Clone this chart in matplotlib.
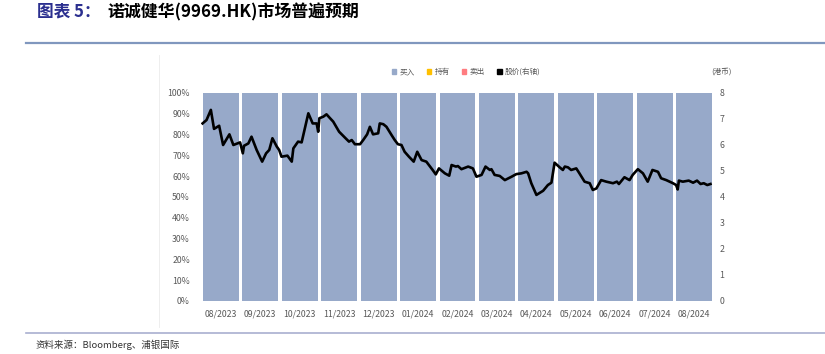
import matplotlib
matplotlib.use("Agg")
import matplotlib.pyplot as plt
import matplotlib.patches as mpatches
from matplotlib.lines import Line2D
import numpy as np

plt.rcParams["font.family"] = ["Noto Sans CJK SC", "DejaVu Sans"]

# ── Data ─────────────────────────────────────────────────────────────────────
months = ["08/2023", "09/2023", "10/2023", "11/2023", "12/2023", "01/2024",
          "02/2024", "03/2024", "04/2024", "05/2024", "06/2024", "07/2024",
          "08/2024"]
buy_pct  = [100] * 13
hold_pct = [0] * 13
sell_pct = [0] * 13

# price timeline: months elapsed since start of 08/2023, HKD price
price_t = [0.04, 0.14, 0.25, 0.33, 0.46, 0.56, 0.72, 0.82, 0.99, 1.06, 1.09,
           1.20, 1.28, 1.41, 1.55, 1.65, 1.73, 1.81, 1.92, 1.98, 2.04, 2.19,
           2.30, 2.34, 2.46, 2.55, 2.72, 2.83, 2.93, 2.97, 3.00, 3.10, 3.18,
           3.27, 3.35, 3.50, 3.65, 3.75, 3.82, 3.90, 4.03, 4.11, 4.21, 4.28,
           4.36, 4.49, 4.53, 4.62, 4.70, 4.83, 4.91, 4.99, 5.08, 5.16, 5.27,
           5.39, 5.48, 5.59, 5.71, 5.87, 5.95, 6.03, 6.18, 6.29, 6.35, 6.46,
           6.51, 6.60, 6.77, 6.89, 6.98, 7.11, 7.21, 7.32, 7.36, 7.44, 7.57,
           7.70, 7.87, 7.99, 8.12, 8.25, 8.29, 8.37, 8.50, 8.67, 8.79, 8.88,
           8.96, 9.09, 9.17, 9.22, 9.30, 9.38, 9.51, 9.59, 9.72, 9.85, 9.93,
           10.02, 10.14, 10.27, 10.44, 10.54, 10.59, 10.73, 10.86, 10.94,
           11.07, 11.20, 11.32, 11.44, 11.58, 11.66, 11.79, 11.96, 12.04,
           12.08, 12.11, 12.21, 12.36, 12.47, 12.57, 12.66, 12.74, 12.83,
           12.91]
price = [6.83, 6.96, 7.35, 6.62, 6.74, 6.00, 6.41, 6.00, 6.10, 5.68, 5.97,
         6.06, 6.32, 5.81, 5.36, 5.68, 5.81, 6.26, 5.94, 5.81, 5.55, 5.59,
         5.36, 5.87, 6.13, 6.10, 7.22, 6.83, 6.83, 6.51, 7.03, 7.09, 7.18,
         7.03, 6.90, 6.51, 6.28, 6.13, 6.19, 6.03, 6.03, 6.19, 6.41, 6.70,
         6.41, 6.45, 6.83, 6.80, 6.70, 6.38, 6.19, 6.03, 6.00, 5.74, 5.55,
         5.36, 5.74, 5.42, 5.36, 5.04, 4.87, 5.10, 4.91, 4.82, 5.23, 5.17,
         5.19, 5.07, 5.17, 5.10, 4.78, 4.85, 5.17, 5.04, 5.07, 4.85, 4.81,
         4.65, 4.78, 4.88, 4.91, 4.97, 4.91, 4.53, 4.08, 4.24, 4.46, 4.55,
         5.32, 5.14, 5.04, 5.17, 5.14, 5.04, 5.10, 4.91, 4.59, 4.53, 4.27,
         4.33, 4.65, 4.59, 4.53, 4.59, 4.50, 4.76, 4.65, 4.85,
         5.07, 4.91, 4.59, 5.04, 4.97, 4.72, 4.65, 4.53, 4.46,
         4.29, 4.63, 4.59, 4.63, 4.55, 4.63, 4.50, 4.53, 4.46,
         4.50]

# ── Style ────────────────────────────────────────────────────────────────────
C_BUY, C_HOLD, C_SELL = "#97A9C9", "#FFC000", "#FF7C80"
C_TXT = "#595959"
W, H = 825, 354

fig = plt.figure(figsize=(W / 100, H / 100), dpi=100)
fig.patch.set_facecolor("white")

ax = fig.add_axes([201 / W, 1 - 301 / H, 513 / W, 208 / H])
x = np.arange(len(months))
ax.bar(x, buy_pct, width=0.91, color=C_BUY, zorder=1)
ax.bar(x, hold_pct, bottom=buy_pct, width=0.91, color=C_HOLD, zorder=1)
ax.bar(x, sell_pct, bottom=np.add(buy_pct, hold_pct), width=0.91,
       color=C_SELL, zorder=1)
ax.set_xlim(-0.5, len(months) - 0.5)
ax.set_ylim(0, 100)
ax.set_yticks(range(0, 101, 10))
ax.set_yticklabels([f"{v}%" for v in range(0, 101, 10)])
ax.set_xticks(x)
ax.set_xticklabels(months)
for s in ax.spines.values():
    s.set_visible(False)
ax.tick_params(axis="both", length=0, labelsize=6.3, colors=C_TXT)
ax.tick_params(axis="x", pad=6)
ax.tick_params(axis="y", pad=8)

ax2 = ax.twinx()
ax2.plot(np.array(price_t) - 0.5, price, color="black", lw=1.9, zorder=3,
         solid_joinstyle="round")
ax2.set_ylim(0, 8)
ax2.set_yticks(range(0, 9))
for s in ax2.spines.values():
    s.set_visible(False)
ax2.tick_params(axis="y", length=0, labelsize=6.3, colors=C_TXT, pad=4)

# ── Legend ───────────────────────────────────────────────────────────────────
handles = [
    mpatches.Patch(color=C_BUY, label="买入"),
    mpatches.Patch(color=C_HOLD, label="持有"),
    mpatches.Patch(color=C_SELL, label="卖出"),
    mpatches.Patch(color="black", label="股价(右轴)"),
]
fig.legend(handles=handles, loc="center", bbox_to_anchor=(466 / W, 1 - 72 / H),
           ncol=4, frameon=False, fontsize=5.5, handlelength=0.6,
           handleheight=0.6, handletextpad=0.4, columnspacing=1.6,
           labelcolor=C_TXT)
fig.text(722 / W, 1 - 72 / H, "(港币)", ha="center", va="center",
         fontsize=5.5, color=C_TXT)

# ── Title / frame lines / source ─────────────────────────────────────────────
t1 = fig.text(37 / W, 1 - 12 / H, "图表 5：", ha="left", va="center",
              fontsize=12, fontweight="bold", color="#2B2F8F")
fig.text(107 / W, 1 - 12 / H, "诺诚健华(9969.HK)市场普遍预期", ha="left",
         va="center", fontsize=12.2, fontweight="bold", color="black")

fig.add_artist(Line2D([26 / W, 1], [1 - 43 / H] * 2, color="#8097BE", lw=1.6))
fig.add_artist(Line2D([26 / W, 1], [1 - 333 / H] * 2, color="#A9AFD0", lw=1.2))
fig.add_artist(Line2D([159 / W] * 2, [1 - 55 / H, 1 - 327 / H],
                      color="#EBEBEB", lw=0.6))
fig.text(36 / W, 1 - 345 / H, "资料来源：Bloomberg、浦银国际", ha="left",
         va="center", fontsize=6.8, color="#333333")

fig.savefig("out.png", dpi=100, facecolor="white")
